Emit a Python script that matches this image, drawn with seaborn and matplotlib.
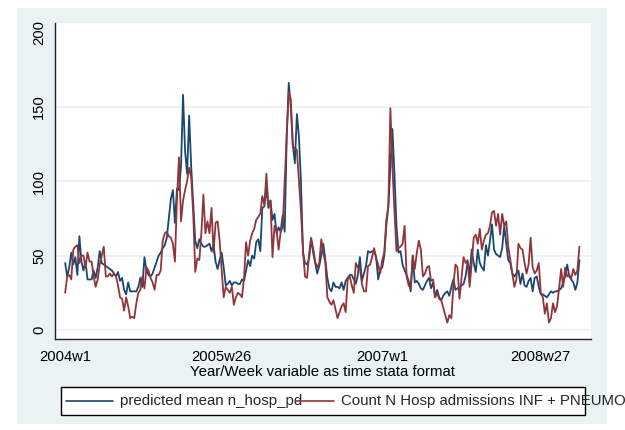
import numpy as np
import pandas as pd
import matplotlib
matplotlib.use("Agg")
import matplotlib.pyplot as plt
import seaborn as sns
from matplotlib.patches import Rectangle
from matplotlib.lines import Line2D

# ---------------- data ----------------
start_week = 2288  # Stata %tw value of 2004w1

predicted = [
    45, 36, 42, 52, 44, 49, 37, 63, 46, 40, 46, 34, 34, 34, 40, 35, 42, 53, 45, 44,
    43, 42, 41, 40, 38, 36, 39, 33, 35, 27, 24, 32, 26, 26, 26, 26, 29, 35, 29, 49, 40,
    37, 36, 38, 42, 46, 50, 52, 55, 57, 62, 75, 88, 94, 72, 95, 94, 110, 158, 120, 105,
    144, 110, 85, 60, 55, 61, 58, 56, 56, 57, 58, 53, 57, 46, 41, 47, 52, 42, 30, 31,
    33, 30, 32, 32, 31,
    31, 34, 33, 40, 47, 43, 50, 48, 59, 61, 53, 82, 83, 96, 82, 87, 74, 78, 65, 69,
    66, 77, 66, 130, 166, 150, 125, 112, 145, 130, 100, 52, 45, 44, 48, 61, 52, 45, 38, 43,
    50, 58, 47,
    35, 28, 26, 32, 29, 29, 28, 32, 27, 33, 35, 37, 37, 34, 31, 37, 49, 33, 38, 43,
    53, 52, 53, 53, 49, 34, 41, 42, 50, 70, 83, 110, 135, 105, 70, 52, 53, 44, 40, 37,
    33, 26, 50,
    32, 33, 31, 28, 27, 30, 33, 35, 28, 32, 22, 27, 22, 20, 23, 25, 26, 23, 29, 34,
    27, 28, 29, 30, 31, 36, 46, 37, 54, 45, 39, 54, 45, 42, 40, 57, 50, 60, 71, 54,
    51, 50, 49, 55,
    70, 58, 47, 45, 38, 36, 38, 40, 31, 38, 30, 29, 33, 35, 26, 35, 36, 29, 24, 24,
    23, 22, 24, 26, 25, 26, 26, 27, 28, 32, 36, 44, 36, 34, 32, 27, 32, 47,
]

observed = [
    25, 36, 37, 34, 54, 56, 57, 45, 50, 50, 42, 52, 46, 46, 36, 29, 34, 44, 50, 56,
    36, 36, 38, 36, 38, 36, 30, 22, 21, 13, 22, 16, 8, 9, 8, 18, 25, 27, 36, 28, 42,
    40, 35, 32, 27, 37, 37, 40, 60, 65, 66, 63, 62, 58, 46, 88, 116, 73, 87, 94, 100,
    109, 103, 78, 39, 48, 47, 65, 91, 65, 73, 65, 82, 52, 72, 73, 60, 40, 22, 29, 27,
    25, 29, 17, 22, 25,
    24, 22, 35, 59, 50, 60, 65, 68, 74, 76, 78, 90, 84, 105, 83, 87, 49, 70, 67, 54,
    66, 69, 100, 131, 160, 155, 123, 122, 121, 100, 80, 54, 36, 35, 51, 62, 55, 46, 42, 45,
    61, 52, 45,
    22, 19, 17, 20, 14, 8, 12, 16, 18, 12, 34, 36, 30, 25, 45, 42, 42, 31, 26, 26,
    43, 44, 49, 55, 48, 44, 38, 47, 52, 74, 83, 149, 110, 80, 53, 55, 56, 58, 70, 36,
    30, 28, 50,
    41, 52, 60, 54, 36, 38, 42, 43, 33, 34, 22, 25, 21, 20, 15, 10, 5, 10, 8, 30,
    44, 42, 21, 35, 49, 45, 47, 29, 45, 62, 64, 58, 68, 54, 60, 64, 65, 70, 79, 80,
    70, 78, 64, 78,
    70, 73, 56, 47, 38, 29, 34, 58, 55, 54, 45, 38, 44, 62, 42, 38, 40, 45, 25, 22,
    11, 18, 5, 8, 18, 12, 16, 28, 41, 29, 42, 36, 37, 35, 41, 37, 40, 56,
]

series_names = ["predicted mean n_hosp_pd", "Count N Hosp admissions INF + PNEUMO"]
x_tick_values = [2288, 2365, 2444, 2522]
x_tick_labels = ["2004w1", "2005w26", "2007w1", "2008w27"]
y_tick_values = [0, 50, 100, 150, 200]
y_tick_labels = ["0", "50", "100", "150", "200"]
grid_values = [0, 50, 100, 150]
x_title = "Year/Week variable as time stata format"

n = len(predicted)
weeks = start_week + np.arange(n)
df = pd.DataFrame({
    "week": np.concatenate([weeks, weeks]),
    "value": predicted + observed,
    "series": [series_names[0]] * n + [series_names[1]] * len(observed),
})

# ---------------- style ----------------
colors = ["#1A476F", "#90353B"]
bg_color = "#EAF2F3"
sns.set_theme(style="white")
plt.rcParams["font.family"] = ["Liberation Sans", "DejaVu Sans"]

W, H = 625, 430
fig = plt.figure(figsize=(W / 100, H / 100), dpi=100)
fig.patch.set_facecolor("white")
fig.patches.append(Rectangle((17 / W, 1 - 424 / H), (607 - 17) / W, (424 - 8) / H,
                             transform=fig.transFigure, facecolor=bg_color,
                             edgecolor="none", zorder=-10))

ax = fig.add_axes([55 / W, 1 - 339 / H, (591 - 55) / W, (339 - 23) / H])
ax.set_facecolor("white")

for g in grid_values:
    ax.axhline(g, color=bg_color, lw=1.3, zorder=0)

sns.lineplot(data=df, x="week", y="value", hue="series", hue_order=series_names,
             palette=colors, estimator=None, linewidth=1.3, legend=False, ax=ax)

ax.set_xlim(2283, 2546.7)
ax.set_ylim(-6, 206.2)
ax.set_xticks(x_tick_values)
ax.set_xticklabels(x_tick_labels)
ax.set_yticks(y_tick_values)
ax.set_yticklabels(y_tick_labels, rotation=90, va="center")
ax.set_xlabel(x_title, fontsize=10.8, labelpad=1, color="black")
ax.set_ylabel("")

for s in ["top", "right"]:
    ax.spines[s].set_visible(False)
for s in ["left", "bottom"]:
    ax.spines[s].set_color("#222222")
    ax.spines[s].set_linewidth(1.0)

ax.tick_params(axis="both", direction="out", length=4, width=1, color="#222222",
               labelsize=10.6, labelcolor="black")
ax.tick_params(axis="x", pad=4)
ax.tick_params(axis="y", pad=2.5)

# ---------------- legend ----------------
fig.patches.append(Rectangle((61 / W, 1 - 415 / H), (585 - 61) / W, (415 - 387) / H,
                             transform=fig.transFigure, facecolor="white",
                             edgecolor="black", lw=1.0, zorder=5))
ly = 1 - 401 / H
fig.text(120 / W, ly, series_names[0], fontsize=10.8, va="center", ha="left", zorder=6)
fig.text(341 / W, ly, series_names[1], fontsize=10.8, va="center", ha="left", zorder=6)
fig.lines.append(Line2D([66 / W, 113 / W], [ly, ly], transform=fig.transFigure,
                        color=colors[0], lw=1.2, zorder=7))
fig.lines.append(Line2D([296 / W, 334 / W], [ly, ly], transform=fig.transFigure,
                        color=colors[1], lw=1.2, zorder=7))

fig.savefig("out.png", dpi=100, facecolor="white")
